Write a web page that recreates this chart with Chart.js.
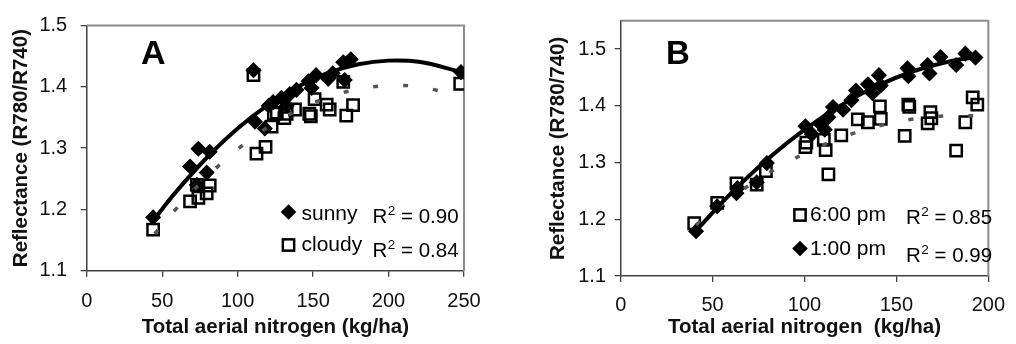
<!DOCTYPE html>
<html>
<head>
<meta charset="utf-8">
<script src="https://cdn.jsdelivr.net/npm/chart.js@4.4.0/dist/chart.umd.min.js"></script>
<style>
  html, body { margin: 0; padding: 0; background: #fff; }
  #wrap { position: relative; width: 1016px; height: 344px; overflow: hidden; }
  #wrap canvas { position: absolute; top: 0; }
</style>
</head>
<body>
<div id="wrap">
  <canvas id="chartA" width="500" height="344" style="left:0"></canvas>
  <canvas id="chartB" width="516" height="344" style="left:500px"></canvas>
</div>
<script>
const FONT = "'Liberation Sans', Arial, Helvetica, sans-serif";

// ---------- Panel A: sunny vs cloudy ----------
const sunnyN = [44, 68.5, 73, 74, 79.5, 81.5, 110.5, 111.5, 118, 120.5, 123.5, 129, 132.5, 134.5, 139, 147, 149, 152, 160, 163, 170, 171, 175, 248];
const sunnyR = [1.187, 1.270, 1.240, 1.299, 1.260, 1.294, 1.427, 1.343, 1.332, 1.369, 1.375, 1.382, 1.369, 1.388, 1.395, 1.409, 1.398, 1.419, 1.413, 1.422, 1.440, 1.411, 1.445, 1.424];

const cloudyN = [44, 68.5, 73, 74, 79.5, 81.5, 110.5, 112.5, 118.5, 122.5, 124, 126, 131, 132.5, 138, 147.5, 148.5, 151, 159, 161, 170, 172, 176.5, 247.5];
const cloudyR = [1.167, 1.213, 1.240, 1.219, 1.226, 1.239, 1.419, 1.291, 1.302, 1.335, 1.356, 1.358, 1.349, 1.356, 1.363, 1.356, 1.352, 1.380, 1.371, 1.363, 1.408, 1.353, 1.370, 1.405];

// polynomial trend lines (points along each fitted curve)
const sunnyTrendN = [45, 60, 80, 100, 120, 140, 160, 180, 200, 220, 248];
const sunnyTrendR = [1.185, 1.231, 1.2855, 1.332, 1.370, 1.400, 1.4226, 1.4367, 1.4427, 1.4407, 1.4244];
const cloudyTrendN = [45, 60, 80, 100, 120, 140, 160, 180, 200, 220, 247];
const cloudyTrendR = [1.160, 1.203, 1.254, 1.298, 1.334, 1.362, 1.383, 1.396, 1.4018, 1.400, 1.385];

const seriesA = ['sunny', 'cloudy'];
const r2A = ['0.90', '0.84'];
const xTicksA = [0, 50, 100, 150, 200, 250];
const yTicksA = [1.1, 1.2, 1.3, 1.4, 1.5];

// ---------- Panel B: 6:00 pm vs 1:00 pm ----------
const pm6N = [40, 52.5, 63, 74, 79, 100.5, 101, 110.5, 111.5, 113, 120, 129, 134.5, 141, 141.5, 154.5, 156.5, 157, 167, 168.5, 169, 182.5, 187.5, 191.5, 194];
const pm6R = [1.193, 1.229, 1.263, 1.261, 1.285, 1.327, 1.335, 1.340, 1.322, 1.279, 1.348, 1.376, 1.371, 1.399, 1.377, 1.347, 1.402, 1.398, 1.369, 1.389, 1.378, 1.321, 1.371, 1.415, 1.402];

const pm1N = [41, 52.5, 63, 63.5, 74, 79.5, 100.5, 104, 109, 111, 113, 115.5, 121, 125.5, 128, 134.5, 137, 140.5, 141.5, 156, 156.5, 167, 168, 174, 182.5, 187.5, 193];
const pm1R = [1.179, 1.223, 1.246, 1.255, 1.265, 1.299, 1.364, 1.350, 1.367, 1.358, 1.380, 1.398, 1.393, 1.410, 1.427, 1.438, 1.422, 1.454, 1.436, 1.466, 1.452, 1.472, 1.457, 1.486, 1.472, 1.492, 1.485];

const pm6TrendN = [41, 60, 80, 100, 120, 140, 160, 180, 195];
const pm6TrendR = [1.190, 1.2377, 1.2805, 1.3158, 1.3437, 1.3642, 1.3772, 1.3828, 1.3821];
const pm1TrendN = [41, 60, 80, 100, 120, 140, 160, 180, 194];
const pm1TrendR = [1.180, 1.2455, 1.3061, 1.358, 1.4012, 1.4358, 1.4618, 1.4791, 1.486];

const seriesB = ['6:00 pm', '1:00 pm'];
const r2B = ['0.85', '0.99'];
const xTicksB = [0, 50, 100, 150, 200];
const yTicksB = [1.1, 1.2, 1.3, 1.4, 1.5];

// ---------- helpers ----------
const toPoints = (xs, ys) => xs.map((x, i) => ({ x, y: ys[i] }));

const diamondStyle = {
  pointStyle: 'rectRot', pointRadius: 7.2, pointHoverRadius: 7.2,
  backgroundColor: '#000', borderColor: '#000', borderWidth: 1.2, showLine: false
};
const squareStyle = {
  pointStyle: 'rect', pointRadius: 8, pointHoverRadius: 8,
  backgroundColor: 'rgba(0,0,0,0)', borderColor: '#000', borderWidth: 2.5, showLine: false
};
const solidTrend = {
  showLine: true, pointRadius: 0, borderColor: '#000', borderWidth: 4,
  tension: 0.4, fill: false
};
const dashTrend = {
  showLine: true, pointRadius: 0, borderColor: '#555', borderWidth: 3.5,
  borderDash: [5, 25], borderCapStyle: 'butt', tension: 0.4, fill: false
};

function drawMarker(ctx, kind, x, y) {
  ctx.save();
  ctx.strokeStyle = '#000';
  ctx.fillStyle = '#000';
  if (kind === 'diamond') {
    const r = 7.8;
    ctx.beginPath();
    ctx.moveTo(x, y - r); ctx.lineTo(x + r, y); ctx.lineTo(x, y + r); ctx.lineTo(x - r, y);
    ctx.closePath();
    ctx.fill();
  } else {
    const s = 11.3;
    ctx.lineWidth = 2.5;
    ctx.strokeRect(x - s / 2, y - s / 2, s, s);
  }
  ctx.restore();
}

// plot-area frame on the top/right sides, panel letter and the legend with R² values
const panelDecor = {
  id: 'panelDecor',
  beforeDatasetsDraw(chart) {
    const { ctx, chartArea: a } = chart;
    ctx.save();
    ctx.strokeStyle = '#8c8c8c';
    ctx.lineWidth = 2;
    ctx.beginPath();
    ctx.moveTo(a.left, a.top);
    ctx.lineTo(a.right, a.top);
    ctx.lineTo(a.right, a.bottom);
    ctx.stroke();
    ctx.restore();
  },
  afterDraw(chart, args, opts) {
    const ctx = chart.ctx;
    ctx.save();
    ctx.fillStyle = '#000';
    ctx.textBaseline = 'alphabetic';
    ctx.textAlign = 'left';
    ctx.font = `bold ${opts.letterSize}px ${FONT}`;
    ctx.fillText(opts.letter, opts.letterX, opts.letterY);
    opts.items.forEach(it => {
      drawMarker(ctx, it.marker, it.mx, it.my);
      ctx.font = `21px ${FONT}`;
      ctx.fillText(it.label, it.tx, it.ty);
      ctx.font = `20.5px ${FONT}`;
      ctx.fillText('R', it.rx, it.ry);
      const wR = ctx.measureText('R').width;
      ctx.font = `13.5px ${FONT}`;
      ctx.fillText('2', it.rx + wR + 0.5, it.ry - 8);
      const w2 = ctx.measureText('2').width;
      ctx.font = `20.5px ${FONT}`;
      ctx.fillText(' = ' + it.r2, it.rx + wR + w2 + 0.5, it.ry);
    });
    ctx.restore();
  }
};

function axisX(min, max, ticks, title, height, tickPad, titlePad) {
  return {
    type: 'linear', min, max,
    afterBuildTicks: s => { s.ticks = ticks.map(v => ({ value: v })); },
    afterFit: s => { s.height = height; },
    border: { display: true, color: '#404040', width: 1.5 },
    grid: { drawOnChartArea: false, drawTicks: true, tickLength: 6, color: '#404040', lineWidth: 1.3 },
    ticks: { color: '#111', font: { size: 20, family: FONT }, padding: tickPad, maxRotation: 0, autoSkip: false,
             callback: v => String(v) },
    title: { display: true, text: title, color: '#111', font: { size: 20.5, weight: 'bold', family: FONT },
             padding: { top: 0, bottom: titlePad } }
  };
}
function axisY(min, max, ticks, title, width, tickPad, titlePad) {
  return {
    type: 'linear', min, max,
    afterBuildTicks: s => { s.ticks = ticks.map(v => ({ value: v })); },
    afterFit: s => { s.width = width; },
    border: { display: true, color: '#404040', width: 1.5 },
    grid: { drawOnChartArea: false, drawTicks: true, tickLength: 6, color: '#404040', lineWidth: 1.3 },
    ticks: { color: '#111', font: { size: 20, family: FONT }, padding: tickPad,
             callback: v => Number(v).toFixed(1) },
    title: { display: true, text: title, color: '#111', font: { size: 20.5, weight: 'bold', family: FONT },
             padding: { top: titlePad, bottom: 0 } }
  };
}

const common = {
  responsive: false,
  animation: false,
  events: [],
  plugins: { legend: { display: false }, tooltip: { enabled: false } }
};

// ---------- Chart A ----------
new Chart(document.getElementById('chartA'), {
  type: 'scatter',
  data: {
    datasets: [
      Object.assign({ label: seriesA[0] + ' trend', data: toPoints(sunnyTrendN, sunnyTrendR), order: 0 }, solidTrend),
      Object.assign({ label: seriesA[1] + ' trend', data: toPoints(cloudyTrendN, cloudyTrendR), order: 0 }, dashTrend),
      Object.assign({ label: seriesA[1], data: toPoints(cloudyN, cloudyR), order: 1 }, squareStyle),
      Object.assign({ label: seriesA[0], data: toPoints(sunnyN, sunnyR), order: 2 }, diamondStyle)
    ]
  },
  options: Object.assign({}, common, {
    layout: { padding: { left: 0, right: 36, top: 14.7, bottom: 0 } },
    scales: {
      x: axisX(0, 250, xTicksA, 'Total aerial nitrogen (kg/ha)', 73.3, 13, 4.5),
      y: axisY(1.1, 1.5, yTicksA, 'Reflectance (R780/R740)', 86.7, 13.5, 9)
    },
    plugins: Object.assign({}, common.plugins, {
      panelDecor: {
        letter: 'A', letterSize: 34, letterX: 141, letterY: 64,
        items: [
          { marker: 'diamond', mx: 288.5, my: 212, label: seriesA[0], tx: 301.5, ty: 220, r2: r2A[0], rx: 372.5, ry: 223 },
          { marker: 'square', mx: 288.5, my: 245, label: seriesA[1], tx: 301.5, ty: 251, r2: r2A[1], rx: 372.5, ry: 257 }
        ]
      }
    })
  }),
  plugins: [panelDecor]
});

// ---------- Chart B ----------
new Chart(document.getElementById('chartB'), {
  type: 'scatter',
  data: {
    datasets: [
      Object.assign({ label: seriesB[1] + ' trend', data: toPoints(pm1TrendN, pm1TrendR), order: 0 }, solidTrend),
      Object.assign({ label: seriesB[0] + ' trend', data: toPoints(pm6TrendN, pm6TrendR), order: 0 }, dashTrend),
      Object.assign({ label: seriesB[1], data: toPoints(pm1N, pm1R), order: 1 }, diamondStyle),
      Object.assign({ label: seriesB[0], data: toPoints(pm6N, pm6R), order: 2 }, squareStyle)
    ]
  },
  options: Object.assign({}, common, {
    layout: { padding: { left: 0, right: 19.3, top: 14, bottom: 0 } },
    scales: {
      x: axisX(0, 200, xTicksB, 'Total aerial nitrogen  (kg/ha)', 68, 11, 4),
      y: axisY(1.1, 1.55, yTicksB, 'Reflectance (R780/740)', 120.7, 8.7, 46)
    },
    plugins: Object.assign({}, common.plugins, {
      panelDecor: {
        letter: 'B', letterSize: 33, letterX: 166, letterY: 64,
        items: [
          { marker: 'square', mx: 300, my: 215, label: seriesB[0], tx: 310, ty: 221, r2: r2B[0], rx: 406, ry: 223.5 },
          { marker: 'diamond', mx: 300, my: 248.5, label: seriesB[1], tx: 310, ty: 255, r2: r2B[1], rx: 406, ry: 261.5 }
        ]
      }
    })
  }),
  plugins: [panelDecor]
});
</script>
</body>
</html>
